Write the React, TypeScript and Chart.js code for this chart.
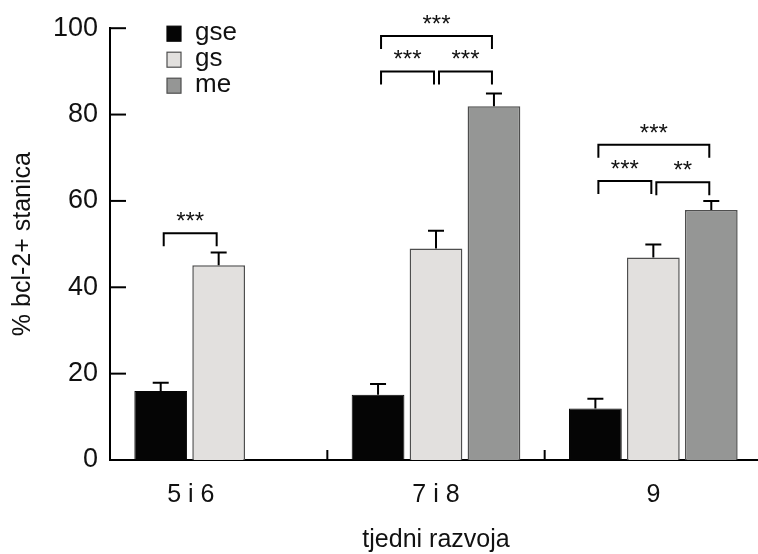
import { useEffect, useRef } from 'react';
import { Chart, registerables } from 'chart.js';

Chart.register(...registerables);

const categories = ['5 i 6        ', '7 i 8', '9'];
const seriesNames = ['gse', 'gs', 'me'];
const gseValues = [16, 15.1, 11.9];
const gsValues = [45.1, 49, 46.9];
const meValues = [null, 81.9, 57.9];
const gseErrors = [1.9, 2.5, 2.3];
const gsErrors = [2.95, 4.1, 3];
const meErrors = [null, 3, 2.1];
const yTicks = [0, 20, 40, 60, 80, 100];

const bracketCategory = [0, 1, 1, 1, 2, 2, 2];
const bracketFrom = [0, 0, 1, 0, 0, 1, 0];
const bracketTo = [1, 1, 2, 2, 1, 2, 2];
const bracketLevel = [52.5, 90, 90, 98.2, 64.6, 64.3, 73];
const bracketLabels = ['***', '***', '***', '***', '***', '**', '***'];

const FONT = '"Liberation Sans", Arial, Helvetica, sans-serif';

const errorsBySeries = [gseErrors, gsErrors, meErrors];

const extrasPlugin = {
  id: 'extras',
  afterDatasetsDraw(chart: any) {
    const ctx = chart.ctx;
    const y = chart.scales.y;
    const x = chart.scales.x;
    const area = chart.chartArea;
    ctx.save();
    ctx.strokeStyle = '#000';
    ctx.lineWidth = 2;
    ctx.lineCap = 'butt';
    // error bars (upper only)
    chart.data.datasets.forEach((ds: any, di: number) => {
      const meta = chart.getDatasetMeta(di);
      const errs = errorsBySeries[di];
      meta.data.forEach((el: any, i: number) => {
        const v = ds.data[i];
        const e = errs[i];
        if (v == null || e == null) return;
        const top = y.getPixelForValue(v + e);
        ctx.beginPath();
        ctx.moveTo(el.x, el.y);
        ctx.lineTo(el.x, top);
        ctx.moveTo(el.x - 8, top);
        ctx.lineTo(el.x + 8, top);
        ctx.stroke();
      });
    });
    // significance brackets
    ctx.fillStyle = '#111';
    ctx.font = `24px ${FONT}`;
    ctx.textAlign = 'center';
    ctx.textBaseline = 'alphabetic';
    for (let k = 0; k < bracketLevel.length; k++) {
      const c = bracketCategory[k];
      const a = chart.getDatasetMeta(bracketFrom[k]).data[c];
      const b = chart.getDatasetMeta(bracketTo[k]).data[c];
      const x1 = a.x + 3;
      const x2 = b.x - 2;
      const ly = y.getPixelForValue(bracketLevel[k]);
      ctx.beginPath();
      ctx.moveTo(x1, ly + 13);
      ctx.lineTo(x1, ly);
      ctx.lineTo(x2, ly);
      ctx.lineTo(x2, ly + 13);
      ctx.stroke();
      ctx.fillText(bracketLabels[k], (x1 + x2) / 2, ly - 4);
    }
    // inward y ticks
    ctx.lineWidth = 2;
    y.ticks.forEach((t: any) => {
      const py = y.getPixelForValue(t.value);
      ctx.beginPath();
      ctx.moveTo(area.left, py);
      ctx.lineTo(area.left + 16, py);
      ctx.stroke();
    });
    // inward x ticks at category boundaries
    for (let i = 1; i < categories.length; i++) {
      const px = (x.getPixelForValue(i - 1) + x.getPixelForValue(i)) / 2;
      ctx.beginPath();
      ctx.moveTo(px, area.bottom);
      ctx.lineTo(px, area.bottom - 10);
      ctx.stroke();
    }
    // legend
    ctx.font = `26px ${FONT}`;
    ctx.textAlign = 'left';
    ctx.textBaseline = 'middle';
    chart.data.datasets.forEach((ds: any, di: number) => {
      const cy = area.top + 5 + di * 26;
      const sx = area.left + 57;
      ctx.fillStyle = ds.backgroundColor;
      ctx.fillRect(sx, cy - 7, 14, 15);
      ctx.lineWidth = 1.2;
      ctx.strokeStyle = ds.borderColor;
      ctx.strokeRect(sx, cy - 7, 14, 15);
      ctx.fillStyle = '#111';
      ctx.fillText(ds.label, sx + 28, cy);
    });
    ctx.restore();
  },
};

export default function App() {
  const ref = useRef<HTMLCanvasElement>(null);
  useEffect(() => {
    if (!ref.current) return;
    const chart = new Chart(ref.current, {
      type: 'bar',
      data: {
        labels: categories,
        datasets: [
          { label: seriesNames[0], data: gseValues, backgroundColor: '#050505', borderColor: '#050505', borderWidth: 1 },
          { label: seriesNames[1], data: gsValues, backgroundColor: '#e2e0de', borderColor: '#4e4e4e', borderWidth: 1.5 },
          { label: seriesNames[2], data: meValues as any, backgroundColor: '#959695', borderColor: '#4e4e4e', borderWidth: 1.5 },
        ],
      },
      options: {
        animation: false,
        responsive: false,
        devicePixelRatio: 1,
        layout: { padding: { left: 8, top: 23, right: 4, bottom: 0 } },
        datasets: { bar: { categoryPercentage: 0.8, barPercentage: 0.91 } },
        plugins: { legend: { display: false }, tooltip: { enabled: false } },
        scales: {
          x: {
            grid: { display: false, drawTicks: false },
            border: { display: true, color: '#000', width: 2 },
            ticks: { color: '#111', font: { family: FONT, size: 25 }, padding: 20, maxRotation: 0, autoSkip: false },
            title: { display: true, text: 'tjedni razvoja', color: '#111', font: { family: FONT, size: 25 }, padding: { top: 0, bottom: -1 } },
            afterFit: (s: any) => { s.height = 94; },
          },
          y: {
            min: 0,
            max: 100,
            afterBuildTicks: (s: any) => { s.ticks = yTicks.map((v) => ({ value: v })); },
            grid: { display: false, drawTicks: false },
            border: { display: true, color: '#000', width: 2 },
            ticks: { color: '#111', font: { family: FONT, size: 27 }, padding: 12 },
            title: { display: true, text: '% bcl-2+ stanica', color: '#111', font: { family: FONT, size: 25 }, padding: { top: 0, bottom: 15 } },
            afterFit: (s: any) => { s.width = 102; },
          },
        },
      },
      plugins: [extrasPlugin],
    });
    return () => chart.destroy();
  }, []);
  return (
    <div style={{ position: 'fixed', left: 0, top: 0, width: 758, height: 554, overflow: 'hidden', background: '#fff' }}>
      <canvas ref={ref} width={766} height={554} style={{ display: 'block' }} />
    </div>
  );
}
